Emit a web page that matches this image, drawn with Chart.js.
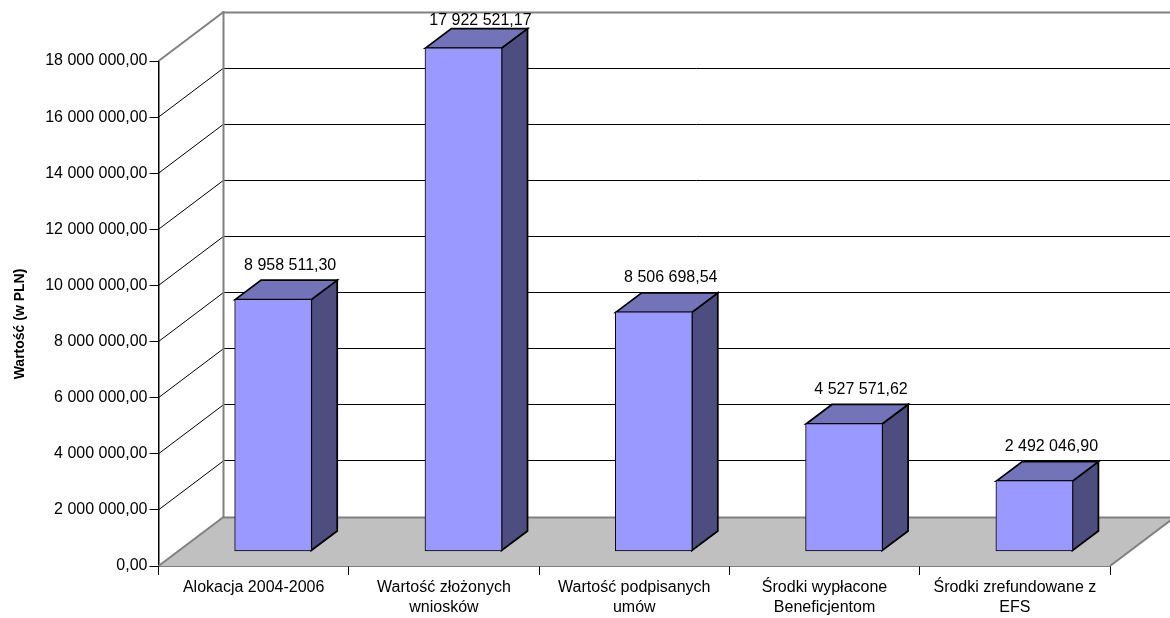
<!DOCTYPE html>
<html>
<head>
<meta charset="utf-8">
<script src="https://cdn.jsdelivr.net/npm/chart.js@4/dist/chart.umd.min.js"></script>
<style>
  html, body { margin: 0; padding: 0; background: #fff; }
  canvas { display: block; }
</style>
</head>
<body>
<canvas id="chart" width="1170" height="618"></canvas>
<script>
const categories = [
  'Alokacja 2004-2006',
  ['Wartość złożonych', 'wniosków'],
  ['Wartość podpisanych', 'umów'],
  ['Środki wypłacone', 'Beneficjentom'],
  ['Środki zrefundowane z', 'EFS']
];
const values = [8958511.30, 17922521.17, 8506698.54, 4527571.62, 2492046.90];
const axisMax = 18000000;
const axisStep = 2000000;
const axisTitle = 'Wartość (w PLN)';

const FONT = '"Liberation Sans", Arial, sans-serif';
const WALL_DX = 65, WALL_DY = 49;   // depth of the whole 3d box
const BAR_DX = 19.5, BAR_DY = 15;   // bar front face, pushed into the box
const SIDE_DX = 26, SIDE_DY = 19.5; // depth of one bar

const formatPln = (v) => v.toFixed(2).replace('.', ',').replace(/\B(?=(\d{3})+(?!\d))/g, ' ');

const crisp = (v) => Math.floor(v) + 0.5;

const line = (ctx, x1, y1, x2, y2, color, width = 1) => {
  ctx.beginPath();
  ctx.moveTo(x1, y1);
  ctx.lineTo(x2, y2);
  ctx.strokeStyle = color;
  ctx.lineWidth = width;
  ctx.stroke();
};

const face = (ctx, pts, fill) => {
  ctx.beginPath();
  pts.forEach((p, i) => i ? ctx.lineTo(p[0], p[1]) : ctx.moveTo(p[0], p[1]));
  ctx.closePath();
  ctx.fillStyle = fill;
  ctx.fill();
  ctx.strokeStyle = '#000';
  ctx.lineWidth = 1.75;
  ctx.lineJoin = 'miter';
  ctx.stroke();
};

const box3d = {
  id: 'box3d',
  beforeDatasetsDraw(chart) {
    const { ctx, chartArea: a, scales: { y } } = chart;
    const zero = y.getPixelForValue(0);
    const backLeft = a.left + WALL_DX;

    ctx.save();
    // floor
    ctx.beginPath();
    ctx.moveTo(a.left, zero);
    ctx.lineTo(backLeft, zero - WALL_DY);
    ctx.lineTo(a.right + WALL_DX, zero - WALL_DY);
    ctx.lineTo(a.right, zero);
    ctx.closePath();
    ctx.fillStyle = '#c0c0c0';
    ctx.fill();

    // grid lines on the side and back walls
    y.ticks.forEach((t) => {
      const py = y.getPixelForValue(t.value);
      const edge = t.value === 0 || t.value === axisMax;
      const color = edge ? '#808080' : '#000';
      const width = edge ? 2 : 1;
      line(ctx, a.left, py, backLeft, py - WALL_DY, color, width);
      line(ctx, backLeft, crisp(py - WALL_DY), chart.width, crisp(py - WALL_DY), color, width);
    });
    line(ctx, crisp(backLeft), y.getPixelForValue(axisMax) - WALL_DY - 1, crisp(backLeft), zero - WALL_DY + 1, '#808080', 2);
    line(ctx, a.right, zero, a.right + WALL_DX, zero - WALL_DY, '#808080', 2);

    // bar side and top faces, the front comes from the bar element
    chart.getDatasetMeta(0).data.forEach((bar) => {
      const left = bar.x - bar.width / 2 + BAR_DX;
      const right = bar.x + bar.width / 2 + BAR_DX;
      const top = bar.y - BAR_DY;
      const bottom = bar.base - BAR_DY;
      face(ctx, [[right, top], [right + SIDE_DX, top - SIDE_DY], [right + SIDE_DX, bottom - SIDE_DY], [right, bottom]], '#4d4d80');
      face(ctx, [[left, top], [left + SIDE_DX, top - SIDE_DY], [right + SIDE_DX, top - SIDE_DY], [right, top]], '#7373b9');
    });
    ctx.restore();

    ctx.save();
    ctx.translate(BAR_DX, -BAR_DY);
  },
  afterDatasetsDraw(chart) {
    const { ctx } = chart;
    ctx.restore();

    ctx.save();
    ctx.font = '16px ' + FONT;
    ctx.fillStyle = '#000';
    ctx.textAlign = 'center';
    ctx.textBaseline = 'middle';
    chart.getDatasetMeta(0).data.forEach((bar, i) => {
      const backTop = bar.y - BAR_DY - SIDE_DY;
      ctx.fillText(formatPln(values[i]), bar.x + BAR_DX + 17, Math.max(20.5, backTop - 15));
    });

    // axis title sits a bit below the middle of the axis
    ctx.translate(20, 324);
    ctx.rotate(-Math.PI / 2);
    ctx.font = 'bold 14px ' + FONT;
    ctx.fillText(axisTitle, 0, 0);
    ctx.restore();
  }
};

new Chart(document.getElementById('chart'), {
  type: 'bar',
  data: {
    labels: categories,
    datasets: [{
      data: values,
      backgroundColor: '#9999ff',
      borderColor: '#000',
      borderWidth: 1,
      inflateAmount: 0.75,
      borderSkipped: false,
      barPercentage: 0.4,
      categoryPercentage: 1,
      clip: false
    }]
  },
  options: {
    responsive: false,
    animation: false,
    devicePixelRatio: 1,
    layout: { padding: { top: 61, right: 60 } },
    plugins: { legend: { display: false }, tooltip: { enabled: false } },
    scales: {
      x: {
        z: 1,
        border: { color: '#000', width: 1.5 },
        grid: { drawOnChartArea: false, color: '#000', tickLength: 9, tickWidth: 1 },
        ticks: { color: '#000', font: { family: FONT, size: 16, lineHeight: 1.25 }, padding: 3, maxRotation: 0, autoSkip: false },
        afterFit: (s) => { s.height = 52; }
      },
      y: {
        z: 1,
        min: 0,
        max: axisMax,
        border: { color: '#000', width: 1.5 },
        grid: { drawOnChartArea: false, color: '#000', tickLength: 9, tickWidth: 1 },
        ticks: {
          color: '#000',
          stepSize: axisStep,
          font: { family: FONT, size: 16 },
          padding: 2,
          callback: (v) => formatPln(v)
        },
        afterFit: (s) => { s.width = 158.5; }
      }
    }
  },
  plugins: [box3d]
});
</script>
</body>
</html>
